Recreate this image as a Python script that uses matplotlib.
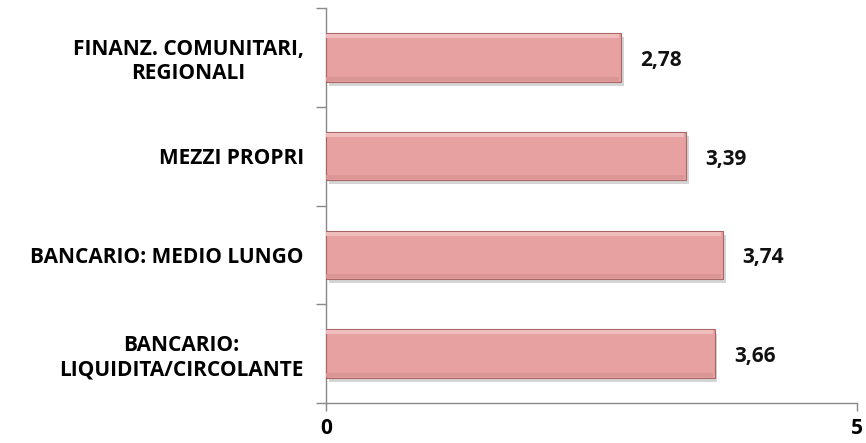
import matplotlib
matplotlib.use("Agg")
import matplotlib.pyplot as plt
import matplotlib.patheffects as pe

categories = ["BANCARIO:\nLIQUIDITA/CIRCOLANTE", "BANCARIO: MEDIO LUNGO", "MEZZI PROPRI",
              "FINANZ. COMUNITARI,\nREGIONALI"]
values = [3.66, 3.74, 3.39, 2.78]
value_labels = ["3,66", "3,74", "3,39", "2,78"]
xticks = [0, 5]

plt.rcParams['font.family'] = ['Open Sans', 'DejaVu Sans']

fig = plt.figure(figsize=(8.66, 4.43), dpi=100)
ax = fig.add_axes([326/866, 40/443, (857-326)/866, (435-40)/443])

FS = 15
ypos = list(range(len(categories)))
bars = ax.barh(ypos, values, height=0.49, color="#E6A1A0", edgecolor="#A86767", linewidth=0.8,
               path_effects=[pe.SimplePatchShadow(offset=(2, -3), shadow_rgbFace="#888888", alpha=0.35), pe.Normal()],
               zorder=3)
# top highlight strip and bottom darker strip (gradient look)
ax.barh([y + 0.215 for y in ypos], [v - 0.02 for v in values], height=0.04, color="#EFBDBC", linewidth=0, zorder=4)
ax.barh([y - 0.215 for y in ypos], [v - 0.02 for v in values], height=0.04, color="#D99695", linewidth=0, zorder=4)

for y, v, lab in zip(ypos, values, value_labels):
    ax.text(v + 0.18, y - 0.03, lab, va="center", ha="left", fontsize=FS, fontweight="bold", color="#111111")

ax.set_xlim(0, 5)
ax.set_ylim(-0.5, len(categories) - 0.5)
ax.set_xticks(xticks)
ax.set_xticklabels([str(t) for t in xticks], fontsize=FS, fontweight="bold")
ax.set_yticks([y - 0.5 for y in ypos] + [len(categories) - 0.5])
ax.set_yticklabels([])
ax.set_yticks(ypos, minor=True)
ax.set_yticklabels(categories, minor=True, fontsize=FS, fontweight="bold", ha="right",
                   multialignment="center", linespacing=1.2)
ax.tick_params(axis="y", which="minor", length=0, pad=16)
ax.tick_params(axis="y", which="major", length=7, color="#888888", width=1)
ax.tick_params(axis="x", length=6, color="#888888", width=1, pad=5)

for s in ["top", "right"]:
    ax.spines[s].set_visible(False)
for s in ["left", "bottom"]:
    ax.spines[s].set_color("#888888")
    ax.spines[s].set_linewidth(1)

fig.savefig("out.png", dpi=100)
